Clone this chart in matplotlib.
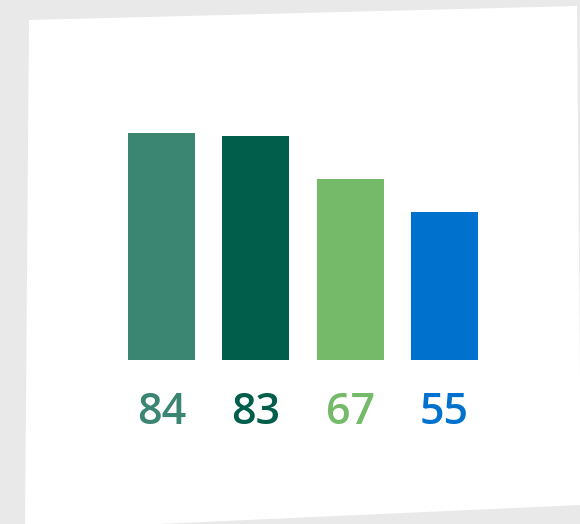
import matplotlib
matplotlib.use("Agg")
import matplotlib.pyplot as plt
from matplotlib.patches import Polygon

# Scores per group
categories = ["A", "B", "C", "D"]
values = [84, 83, 67, 55]
labels = ["84", "83", "67", "55"]
colors = ["#3a8673", "#005e4a", "#74ba68", "#0072ce"]

W, H = 580, 524
fig = plt.figure(figsize=(W / 100, H / 100), dpi=100, facecolor="#e9e9e9")

# Slightly tilted white sheet behind the chart (pixel corners, top-left origin)
sheet_px = [(29, 20), (577, 6), (581, 505), (25, 530)]
sheet = Polygon([(x / W, 1 - y / H) for x, y in sheet_px], closed=True,
                transform=fig.transFigure, facecolor="white", edgecolor="none",
                zorder=-10)
fig.add_artist(sheet)

# Axes placed so bars sit on the baseline with ~2.7 px per unit
left_px, right_px = 114.3, 491.7
base_px, top_px = 360, 360 - 2.7 * 100
ax = fig.add_axes([left_px / W, 1 - base_px / H,
                   (right_px - left_px) / W, (base_px - top_px) / H])
ax.set_zorder(5)
ax.set_facecolor("none")
x = range(len(values))
ax.bar(x, values, width=0.71, color=colors)
ax.set_xlim(-0.5, len(values) - 0.5)
ax.set_ylim(0, 100)
ax.axis("off")

for i, (lab, col) in enumerate(zip(labels, colors)):
    ax.text(i, -19.5, lab, ha="center", va="center", color=col,
            fontsize=31, family="Open Sans", weight="semibold", clip_on=False)

fig.savefig("out.png", dpi=100, facecolor=fig.get_facecolor())
